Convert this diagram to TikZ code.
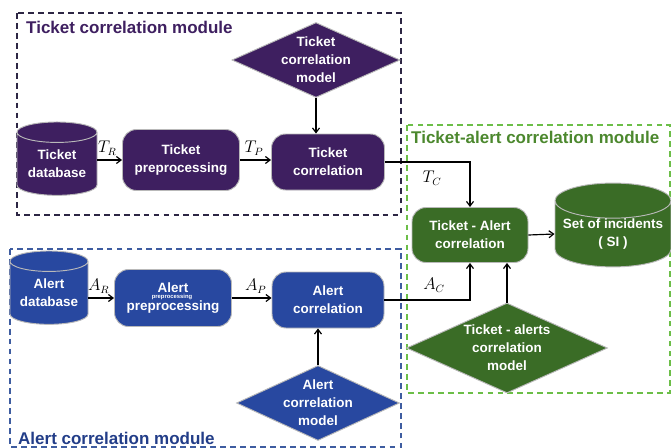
\documentclass[tikz,border=0pt]{standalone}
\usepackage{fontspec}
\setmainfont{Liberation Sans}
\usetikzlibrary{shapes.geometric,arrows.meta}
\definecolor{tkpurple}{RGB}{62,31,96}
\definecolor{alblue}{RGB}{40,72,160}
\definecolor{tagreen}{RGB}{58,108,38}
\definecolor{tkdash}{RGB}{45,38,68}
\definecolor{aldash}{RGB}{62,92,160}
\definecolor{tadash}{RGB}{108,190,72}
\definecolor{tatitle}{RGB}{76,136,46}

\begin{document}
\begin{tikzpicture}[x=0.03cm,y=-0.03cm,
    proc/.style={rectangle,rounded corners=12pt,draw=gray!55,line width=0.8pt,
      text=white,font=\bfseries\fontsize{11.5}{15.5}\selectfont,align=center,inner sep=0pt},
    db/.style={cylinder,shape border rotate=90,aspect=0.35,draw=gray!55,line width=0.8pt,
      text=white,font=\bfseries\fontsize{11.5}{15.5}\selectfont,align=center,inner sep=0pt},
    model/.style={diamond,draw=gray!55,line width=0.8pt,inner sep=0pt},
    modtext/.style={text=white,font=\bfseries\fontsize{11.5}{15.5}\selectfont,align=center},
    modbox/.style={line width=1pt,dash pattern=on 5pt off 3.5pt},
    modtitle/.style={anchor=west,font=\bfseries\fontsize{14.5}{15}\selectfont,inner sep=0pt},
    flow/.style={-{Straight Barb[length=4pt,width=6pt]},line width=1pt},
    lbl/.style={font=\fontsize{13.5}{13.5}\selectfont}]
  \useasboundingbox (0,0) rectangle (671,448);

  % ticket side
  \draw[modbox,draw=tkdash] (17,13) rectangle (401,215);
  \node[modtitle,text=tkpurple] (tktitle) at (26,27) {Ticket correlation module};
  \node[db,fill=tkpurple,minimum width=2.4cm,minimum height=2.2cm] (tdb) at (57,164) {Ticket\\database};
  \node[proc,fill=tkpurple,minimum width=3.51cm,minimum height=1.83cm] (tpre) at (181,160) {Ticket\\preprocessing};
  \node[proc,fill=tkpurple,minimum width=3.39cm,minimum height=1.68cm] (tcor) at (328,162) {Ticket\\correlation};
  \node[model,fill=tkpurple,minimum width=5.04cm,minimum height=2.25cm] (tcm) at (316,60) {};
  \node[modtext] (tcmtext) at (tcm) {Ticket\\correlation\\model};
  \draw[flow] (tdb.east |- tpre.west) -- node[lbl,above,pos=0.4] (tr) {$T_R$} (tpre.west);
  \draw[flow] (tpre.east) -- node[lbl,above,pos=0.45] (tp) {$T_P$} (tcor.west |- tpre.east);
  \draw[flow] (tcm.south) -- (tcm.south |- tcor.north);

  % alert side
  \draw[modbox,draw=aldash] (10,249) rectangle (401,447);
  \node[modtitle,text=alblue!85!black] (altitle) at (18,438) {Alert correlation module};
  \node[db,fill=alblue,minimum width=2.34cm,minimum height=2.2cm] (adb) at (49,293) {Alert\\database};
  \node[proc,fill=alblue,minimum width=3.51cm,minimum height=1.71cm] (apre) at (173,298) {Alert\\preprocessing};
  \node[text=white,font=\rmfamily\bfseries\fontsize{5}{5}\selectfont,inner sep=0pt] (apreart) at (172,297) {preprocessing};
  \node[proc,fill=alblue,minimum width=3.36cm,minimum height=1.68cm] (acor) at (328,300) {Alert\\correlation};
  \node[model,fill=alblue,minimum width=4.89cm,minimum height=2.25cm] (acm) at (318,403) {};
  \node[modtext] (acmtext) at (acm) {Alert\\correlation\\model};
  \draw[flow] (adb.east |- apre.west) -- node[lbl,above,pos=0.4] (ar) {$A_R$} (apre.west);
  \draw[flow] (apre.east) -- node[lbl,above,pos=0.6] (ap) {$A_P$} (acor.west |- apre.east);
  \draw[flow] (acm.north) -- (acm.north |- acor.south);

  % ticket-alert side
  \draw[modbox,draw=tadash] (407,125) rectangle (670,393);
  \node[modtitle,text=tatitle] (tatitle) at (411,137) {Ticket-alert correlation module};
  \node[proc,fill=tagreen,minimum width=3.48cm,minimum height=1.65cm] (tacor) at (470,235) {Ticket - Alert\\correlation};
  \node[db,fill=tagreen,minimum width=3.48cm,minimum height=2.3cm] (si) at (613,234) {Set of incidents\\( SI )};
  \node[model,fill=tagreen,minimum width=6.03cm,minimum height=2.7cm] (tam) at (507,348) {};
  \node[modtext] (tamtext) at (tam) {Ticket - alerts\\correlation\\model};
  \draw[flow] (tcor.east) -| (tacor.north);
  \draw[flow] (acor.east) -| (tacor.south);
  \node[lbl] (tc) at (432,178) {$T_C$};
  \node[lbl] (ac) at (434,285) {$A_C$};
  \draw[flow] (tam.north) -- (tam.north |- tacor.south);
  \draw[flow] (tacor.east) -- (si.west);
\end{tikzpicture}
\end{document}
